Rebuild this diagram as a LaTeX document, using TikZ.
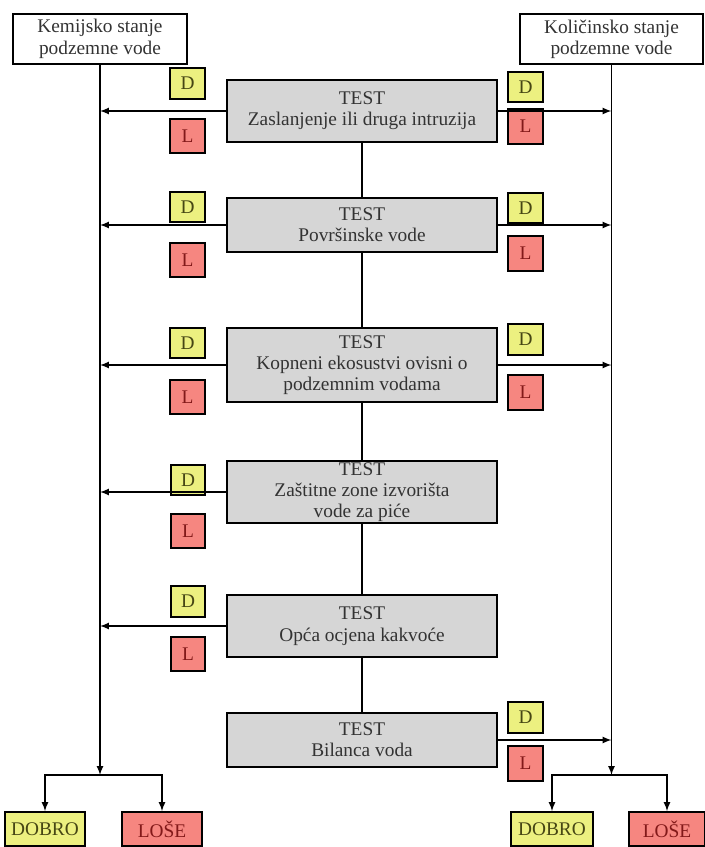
\documentclass[tikz,border=0pt]{standalone}
\usepackage{fontspec}
\setmainfont{Liberation Serif}
\usetikzlibrary{arrows}

\definecolor{dfill}{RGB}{236,240,128}
\definecolor{lfill}{RGB}{246,134,128}
\definecolor{tfill}{RGB}{214,214,214}
\definecolor{dtext}{RGB}{70,70,20}
\definecolor{ltext}{RGB}{130,25,25}

\tikzset{
  stanje/.style={rectangle,draw,line width=1.1pt,fill=white,align=center,
    minimum height=37.5pt,inner sep=2pt,font=\fontsize{14.5}{16}\selectfont,text=black!80},
  testbox/.style={rectangle,draw,line width=1.4pt,fill=tfill,align=center,
    minimum width=202pt,inner sep=1pt,font=\fontsize{14.5}{16}\selectfont,text=black!80},
  dbox/.style={rectangle,draw,line width=1.4pt,fill=dfill,minimum width=26pt,
    minimum height=23pt,font=\fontsize{14.5}{16}\selectfont,text=dtext},
  lbox/.style={rectangle,draw,line width=1.4pt,fill=lfill,minimum width=26pt,
    minimum height=26pt,font=\fontsize{14.5}{16}\selectfont,text=ltext},
  spoj/.style={line width=1.3pt},
  strel/.style={line width=1.3pt,-latex}
}

\begin{document}
\begin{tikzpicture}[x=0.75pt,y=-0.75pt]
\useasboundingbox (0,0) rectangle (705,847);

% stanje podzemne vode
\node[stanje,minimum width=130.5pt] (kem) at (100,39) {Kemijsko stanje\\podzemne vode};
\node[stanje,minimum width=137pt] (kol) at (611.5,39) {Količinsko stanje\\podzemne vode};

% testovi
\node[testbox,minimum height=46.5pt] (t1) at (362,111) {TEST\\Zaslanjenje ili druga intruzija};
\node[testbox,minimum height=40pt] (t2) at (362,225) {TEST\\Površinske vode};
\node[testbox,minimum height=55pt] (t3) at (362,365) {TEST\\Kopneni ekosustvi ovisni o\\podzemnim vodama};
\node[testbox,minimum height=44pt] (t4) at (362,492) {TEST\\Zaštitne zone izvorišta\\vode za piće};
\node[testbox,minimum height=47pt] (t5) at (362,626) {TEST\\Opća ocjena kakvoće};
\node[testbox,minimum height=40.5pt] (t6) at (362,740) {TEST\\Bilanca voda};

% D i L lijevo
\node[dbox] (dl1) at (187.5,83.5) {D};
\node[lbox] (ll1) at (187.5,136) {L};
\node[dbox] (dl2) at (187.5,207) {D};
\node[lbox] (ll2) at (187.5,260) {L};
\node[dbox] (dl3) at (187.5,343) {D};
\node[lbox] (ll3) at (187.5,397) {L};
\node[dbox] (dl4) at (188,480) {D};
\node[lbox] (ll4) at (188,531) {L};
\node[dbox] (dl5) at (188,601.5) {D};
\node[lbox] (ll5) at (188,654) {L};

% D i L desno
\node[dbox] (dr1) at (525.5,87) {D};
\node[lbox] (lr1) at (525.5,126.5) {L};
\node[dbox] (dr2) at (525.5,208) {D};
\node[lbox] (lr2) at (525.5,253.5) {L};
\node[dbox] (dr3) at (525.5,339.5) {D};
\node[lbox] (lr3) at (525.5,392.5) {L};
\node[dbox] (dr6) at (525.5,717.5) {D};
\node[lbox] (lr6) at (525.5,763.5) {L};

% ocjene
\node[dbox,minimum width=60pt,minimum height=25.5pt] (kdob) at (45,829) {DOBRO};
\node[lbox,minimum width=60pt,minimum height=25.5pt] (klos) at (162,829) {LOŠE};
\node[dbox,minimum width=61.5pt,minimum height=25.5pt] (qdob) at (552,829) {DOBRO};
\node[lbox,minimum width=57pt,minimum height=25.5pt] (qlos) at (667,829) {LOŠE};

\coordinate (kbr) at (100,775);
\coordinate (qbr) at (613,775);

% veze
\draw[spoj] (t1.south) -- (t2.north);
\draw[spoj] (t2.south) -- (t3.north);
\draw[spoj] (t3.south) -- (t4.north);
\draw[spoj] (t4.south) -- (t5.north);
\draw[spoj] (t5.south) -- (t6.north);

\draw[strel] (kem.south) -- (kbr);
\draw[strel] (kol.south) -- (kol.south |- qbr);

\foreach \t in {t1,t2,t3,t4,t5}
  \draw[strel] (\t.west) -- (\t.west -| kem.south);
\foreach \t in {t1,t2,t3,t6}
  \draw[strel] (\t.east) -- (\t.east -| kol.south);

\draw[strel] (kbr) -| (kdob.north);
\draw[strel] (kbr) -| (klos.north);
\draw[strel] (kol.south |- qbr) -| (qdob.north);
\draw[strel] (kol.south |- qbr) -| (qlos.north);
\end{tikzpicture}
\end{document}
